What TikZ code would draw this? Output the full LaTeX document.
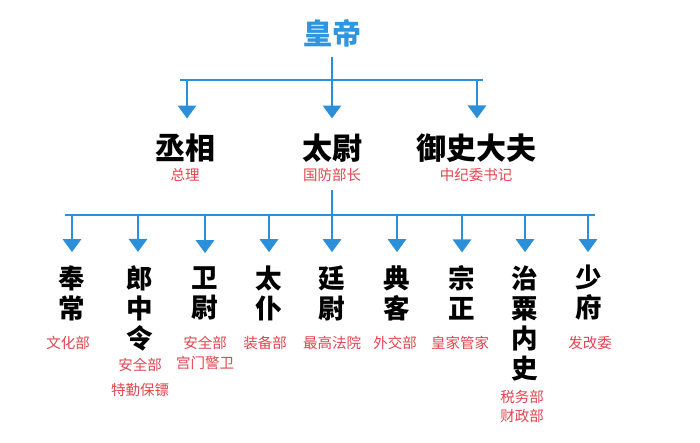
\documentclass[tikz,border=0pt]{standalone}
\usepackage{fontspec}
\setmainfont{Noto Sans CJK SC}
\usetikzlibrary{arrows.meta}
\definecolor{lineblue}{HTML}{2B8FD9}
\definecolor{titleblue}{HTML}{2F95DE}
\definecolor{subred}{HTML}{E2454F}
\begin{document}
\begin{tikzpicture}[x=1pt,y=-1pt,
  conn/.style={lineblue,line width=2.9pt},
  arr/.style={conn,-{Triangle[length=13pt,width=18pt]}},
  toptitle/.style={inner sep=0pt,font=\fontsize{29}{30}\selectfont\bfseries,text=titleblue},
  lvtwo/.style={inner sep=0pt,font=\fontsize{30}{32}\selectfont\bfseries},
  lvthree/.style={inner sep=0pt,align=center,font=\fontsize{26.5}{30}\selectfont\bfseries},
  sub/.style={inner sep=0pt,align=center,text=subred,font=\fontsize{14.5}{20}\selectfont}]
\fill[white] (0,0) rectangle (700,443);
\useasboundingbox (0,0) rectangle (700,443);
% top
\node[toptitle] (hd) at (332,33) {皇帝};
% level two
\node[lvtwo] (cx) at (185,148) {丞相};
\node[lvtwo] (tw) at (332,148) {太尉};
\node[lvtwo] (ys) at (476,148) {御史大夫};
\node[sub] (cxs) at (185,175) {总理};
\node[sub] (tws) at (332,175) {国防部长};
\node[sub] (yss) at (476,175) {中纪委书记};
% bar one
\coordinate (b1l) at (180,80);
\coordinate (b1r) at (483,80);
\coordinate (b1m) at (332,80);
\coordinate (b1a) at (187,80);
\coordinate (b1c) at (477,80);
\draw[conn] (b1l) -- (b1r);
\draw[conn,shorten <=10pt] (hd.south) -- (b1m);
\draw[arr,shorten >=15pt] (b1a) -- (b1a |- cx.north);
\draw[arr,shorten >=15pt] (b1m) -- (b1m |- tw.north);
\draw[arr,shorten >=15pt] (b1c) -- (b1c |- ys.north);
% level three
\node[lvthree] (n1) at (72,293) {奉\\常};
\node[lvthree] (n2) at (140,308) {郎\\中\\令};
\node[lvthree] (n3) at (205,293) {卫\\尉};
\node[lvthree] (n4) at (269,293) {太\\仆};
\node[lvthree] (n5) at (332,293) {廷\\尉};
\node[lvthree] (n6) at (397,293) {典\\客};
\node[lvthree] (n7) at (462,293) {宗\\正};
\node[lvthree] (n8) at (525,323) {治\\粟\\内\\史};
\node[lvthree] (n9) at (589,293) {少\\府};
\node[sub] (s1) at (68,343) {文化部};
\node[sub] (s2) at (140,377) {安全部\\[5pt]特勤保镖};
\node[sub] (s3) at (205,353) {安全部\\宫门警卫};
\node[sub] (s4) at (265,343) {装备部};
\node[sub] (s5) at (332,343) {最高法院};
\node[sub] (s6) at (395,343) {外交部};
\node[sub] (s7) at (460,343) {皇家管家};
\node[sub,font=\fontsize{14.5}{19}\selectfont] (s8) at (522,406) {税务部\\财政部};
\node[sub] (s9) at (590,343) {发改委};
% bar two
\coordinate (b2l) at (65,215);
\coordinate (b2r) at (595,215);
\coordinate (b2m) at (332,215);
\draw[conn] (b2l) -- (b2r);
\draw[conn,shorten <=8pt] (tws.south) -- (b2m);
\foreach \n/\x in {n1/72,n2/138,n3/205,n4/269,n5/332,n6/397,n7/462,n8/525,n9/588}{
  \coordinate (c\n) at (\x,215);
  \draw[arr,shorten >=13pt] (c\n) -- (c\n |- \n.north);
}
\end{tikzpicture}
\end{document}
